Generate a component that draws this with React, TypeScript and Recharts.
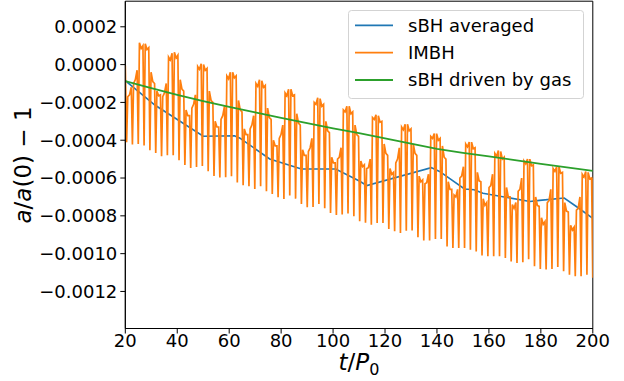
import React from "react";
import { LineChart, Line, XAxis, YAxis, Legend, ReferenceArea } from "recharts";

// all y values below are in units of 1e-3 (converted when building tables)
const X_TICKS = [20, 40, 60, 80, 100, 120, 140, 160, 180, 200];
const Y_TICKS = [0.0002, 0, -0.0002, -0.0004, -0.0006, -0.0008, -0.001, -0.0012];

const SERIES_NAMES = ["sBH averaged", "IMBH", "sBH driven by gas"];
const SERIES_COLORS = ["#1f77b4", "#ff7f0e", "#2ca02c"];

// sBH averaged
const AVG_T = [20, 31.5, 50, 62, 64, 75.6, 87.8, 101, 110.3, 113, 137.8, 141, 150.6, 154.3, 157.7, 175.8, 179.5, 189, 193.8, 200];
const AVG_V = [-0.085, -0.215, -0.379, -0.376, -0.388, -0.499, -0.552, -0.552, -0.617, -0.64, -0.545, -0.565, -0.658, -0.662, -0.681, -0.724, -0.718, -0.706, -0.752, -0.813];

// sBH driven by gas
const GAS_T = [20, 30, 40, 50, 60, 70, 80, 90, 100, 110, 120, 130, 140, 150, 160, 170, 180, 190, 200];
const GAS_V = [-0.088, -0.125, -0.16, -0.193, -0.224, -0.253, -0.282, -0.31, -0.337, -0.363, -0.39, -0.418, -0.446, -0.467, -0.486, -0.505, -0.525, -0.544, -0.562];

// IMBH: times of the downward spikes, spike minima, and the top level after / in the middle of / before each gap
const IMBH_START = -0.005;
const IMBH_END = -0.6;
const SPIKE_T = [
  20.5, 22.74, 24.99, 27.23, 29.47, 31.72, 33.96, 36.2, 38.45, 40.69,
  42.94, 45.18, 47.42, 49.67, 51.91, 54.15, 56.4, 58.64, 60.88, 63.13,
  65.37, 67.61, 69.86, 72.1, 74.34, 76.59, 78.83, 81.07, 83.32, 85.56,
  87.81, 90.05, 92.29, 94.54, 96.78, 99.02, 101.27, 103.51, 105.75, 108.0,
  110.24, 112.48, 114.73, 116.97, 119.21, 121.46, 123.7, 125.94, 128.19, 130.43,
  132.68, 134.92, 137.16, 139.41, 141.65, 143.89, 146.14, 148.38, 150.62, 152.87,
  155.11, 157.35, 159.6, 161.84, 164.08, 166.33, 168.57, 170.81, 173.06, 175.3,
  177.55, 179.79, 182.03, 184.28, 186.52, 188.76, 191.01, 193.25, 195.49, 197.74,
  199.98,
];
const SPIKE_LOW = [
  -0.411, -0.423, -0.42, -0.428, -0.453, -0.467, -0.485, -0.48, -0.48, -0.506,
  -0.531, -0.547, -0.542, -0.536, -0.564, -0.589, -0.597, -0.596, -0.591, -0.623,
  -0.638, -0.644, -0.658, -0.644, -0.67, -0.684, -0.702, -0.711, -0.693, -0.709,
  -0.737, -0.755, -0.753, -0.737, -0.76, -0.785, -0.795, -0.793, -0.788, -0.802,
  -0.829, -0.836, -0.847, -0.838, -0.838, -0.87, -0.882, -0.891, -0.879, -0.877,
  -0.913, -0.93, -0.93, -0.923, -0.923, -0.962, -0.97, -0.97, -0.97, -0.979,
  -0.988, -1.01, -1.014, -1.014, -1.014, -1.023, -1.041, -1.049, -1.046, -1.03,
  -1.067, -1.081, -1.084, -1.081, -1.07, -1.093, -1.111, -1.12, -1.12, -1.111,
  -1.128,
];
const TOP_A = [
  -0.17, -0.1, 0.115, 0.11, -0.04, -0.14, -0.17, 0.04, 0.065, -0.08,
  -0.24, -0.23, -0.01, 0.0, -0.14, -0.3, -0.29, -0.06, -0.04, -0.19,
  -0.34, -0.34, -0.1, -0.085, -0.23, -0.4, -0.39, -0.15, -0.13, -0.26,
  -0.45, -0.46, -0.2, -0.18, -0.3, -0.49, -0.5, -0.24, -0.22, -0.32,
  -0.51, -0.55, -0.28, -0.27, -0.42, -0.55, -0.52, -0.33, -0.315, -0.42,
  -0.59, -0.63, -0.38, -0.365, -0.43, -0.62, -0.69, -0.6, -0.42, -0.41,
  -0.57, -0.71, -0.65, -0.47, -0.46, -0.65, -0.74, -0.67, -0.51, -0.5,
  -0.7, -0.81, -0.73, -0.55, -0.54, -0.73, -0.85, -0.77, -0.58, -0.57,
];
const TOP_M = [
  -0.16, -0.08, 0.085, 0.08, -0.09, -0.165, -0.15, 0.025, 0.035, -0.13,
  -0.27, -0.21, -0.025, -0.03, -0.19, -0.33, -0.27, -0.075, -0.07, -0.24,
  -0.37, -0.32, -0.115, -0.12, -0.28, -0.43, -0.37, -0.165, -0.165, -0.31,
  -0.48, -0.44, -0.21, -0.22, -0.35, -0.52, -0.49, -0.25, -0.26, -0.37,
  -0.54, -0.545, -0.29, -0.305, -0.47, -0.58, -0.5, -0.345, -0.35, -0.47,
  -0.62, -0.625, -0.39, -0.4, -0.49, -0.66, -0.7, -0.59, -0.435, -0.445,
  -0.615, -0.745, -0.64, -0.485, -0.5, -0.7, -0.76, -0.66, -0.525, -0.535,
  -0.745, -0.845, -0.72, -0.565, -0.575, -0.775, -0.875, -0.76, -0.595, -0.605,
];
const TOP_B = [
  -0.12, -0.03, 0.1, 0.09, -0.1, -0.16, -0.1, 0.06, 0.05, -0.14,
  -0.27, -0.16, 0.005, -0.02, -0.2, -0.33, -0.22, -0.04, -0.06, -0.25,
  -0.37, -0.27, -0.08, -0.11, -0.29, -0.43, -0.32, -0.13, -0.16, -0.32,
  -0.48, -0.39, -0.175, -0.21, -0.36, -0.52, -0.44, -0.22, -0.25, -0.38,
  -0.53, -0.5, -0.265, -0.3, -0.48, -0.57, -0.44, -0.315, -0.34, -0.48,
  -0.61, -0.58, -0.365, -0.39, -0.5, -0.66, -0.66, -0.54, -0.41, -0.44,
  -0.62, -0.73, -0.58, -0.455, -0.49, -0.7, -0.73, -0.6, -0.5, -0.53,
  -0.75, -0.83, -0.66, -0.54, -0.57, -0.78, -0.86, -0.7, -0.565, -0.6,
];

const UNIT = 1e-3;
const Y_MIN = -1.396e-3;
const Y_MAX = 0.3354e-3;
const RISE = 0.45;
const MID = 1.12;
const FALL = 1.8;

const avgData = AVG_T.map((t, i) => ({ t, v: AVG_V[i] * UNIT }));
const gasData = GAS_T.map((t, i) => ({ t, v: GAS_V[i] * UNIT }));
const imbhData: { t: number; v: number }[] = [{ t: 20, v: IMBH_START * UNIT }];
SPIKE_T.forEach((t, k) => {
  imbhData.push({ t, v: SPIKE_LOW[k] * UNIT });
  if (k < TOP_A.length) {
    imbhData.push({ t: t + RISE, v: TOP_A[k] * UNIT });
    imbhData.push({ t: t + MID, v: TOP_M[k] * UNIT });
    imbhData.push({ t: t + FALL, v: TOP_B[k] * UNIT });
  }
});
imbhData.push({ t: 200, v: IMBH_END * UNIT });

const FONT = "DejaVu Sans";

const fmtY = (v: number) => (v < -1e-12 ? "\u2212" : "") + Math.abs(v).toFixed(4);

const LegendBox = () => (
  <div style={{ width: 236, height: 89 }}>
    <svg width={236} height={89} style={{ display: "block" }}>
      <rect x={0.5} y={0.5} width={235} height={88} rx={3} ry={3} fill="rgba(255,255,255,0.8)" stroke="#d3d3d3" strokeWidth={1} />
      {SERIES_NAMES.map((name, i) => {
        const y = 15.3 + i * 27.35;
        return (
          <g key={name}>
            <line x1={7} x2={45} y1={y} y2={y} stroke={SERIES_COLORS[i]} strokeWidth={1.8} />
            <text x={60} y={y + 6.4} fontFamily={FONT} fontSize={18} fill="#000">
              {name}
            </text>
          </g>
        );
      })}
    </svg>
  </div>
);

export default function App() {
  return (
    <div style={{ position: "absolute", left: 0, top: 0, width: 624, height: 381, background: "#fff" }}>
      <LineChart width={624} height={381} margin={{ top: 1.2, right: 31.2, left: 0, bottom: 0 }}>
        <XAxis
          type="number"
          dataKey="t"
          domain={[20, 200]}
          ticks={X_TICKS}
          interval={0}
          allowDataOverflow
          height={52.5}
          tickSize={5}
          tickMargin={1}
          axisLine={{ stroke: "#000", strokeWidth: 1 }}
          tickLine={{ stroke: "#000", strokeWidth: 1 }}
          tick={{ fill: "#000", fontSize: 18, fontFamily: FONT }}
        />
        <YAxis
          type="number"
          dataKey="v"
          domain={[Y_MIN, Y_MAX]}
          ticks={Y_TICKS}
          interval={0}
          allowDataOverflow
          width={125.3}
          tickSize={5}
          tickMargin={3}
          tickFormatter={fmtY}
          axisLine={{ stroke: "#000", strokeWidth: 1 }}
          tickLine={{ stroke: "#000", strokeWidth: 1 }}
          tick={{ fill: "#000", fontSize: 18, fontFamily: FONT }}
        />
        <Line data={avgData} dataKey="v" name={SERIES_NAMES[0]} stroke={SERIES_COLORS[0]} strokeWidth={1.6} dot={false} isAnimationActive={false} />
        <Line data={imbhData} dataKey="v" name={SERIES_NAMES[1]} stroke={SERIES_COLORS[1]} strokeWidth={1.7} dot={false} isAnimationActive={false} />
        <Line data={gasData} dataKey="v" name={SERIES_NAMES[2]} stroke={SERIES_COLORS[2]} strokeWidth={1.8} dot={false} isAnimationActive={false} />
        <ReferenceArea x1={20} x2={200} y1={Y_MIN} y2={Y_MAX} fill="none" fillOpacity={0} stroke="#000" strokeWidth={1} ifOverflow="visible" />
        <Legend
          layout="vertical"
          align="center"
          verticalAlign="middle"
          content={() => <LegendBox />}
          wrapperStyle={{ position: "absolute", left: 348, top: 10, width: 236, height: 89 }}
        />
      </LineChart>
      <svg width={624} height={381} style={{ position: "absolute", left: 0, top: 0, pointerEvents: "none" }}>
        <text x={359} y={370} textAnchor="middle" fontFamily={FONT} fontSize={23} fill="#000">
          <tspan fontStyle="italic">t</tspan>
          <tspan>/</tspan>
          <tspan fontStyle="italic">P</tspan>
          <tspan fontSize={16} dy={5}>0</tspan>
        </text>
        <text transform="translate(31,165) rotate(-90)" x={0} y={0} textAnchor="middle" fontFamily={FONT} fontSize={23} fill="#000">
          <tspan fontStyle="italic">a</tspan>
          <tspan>/</tspan>
          <tspan fontStyle="italic">a</tspan>
          <tspan>(0) − 1</tspan>
        </text>
      </svg>
    </div>
  );
}
